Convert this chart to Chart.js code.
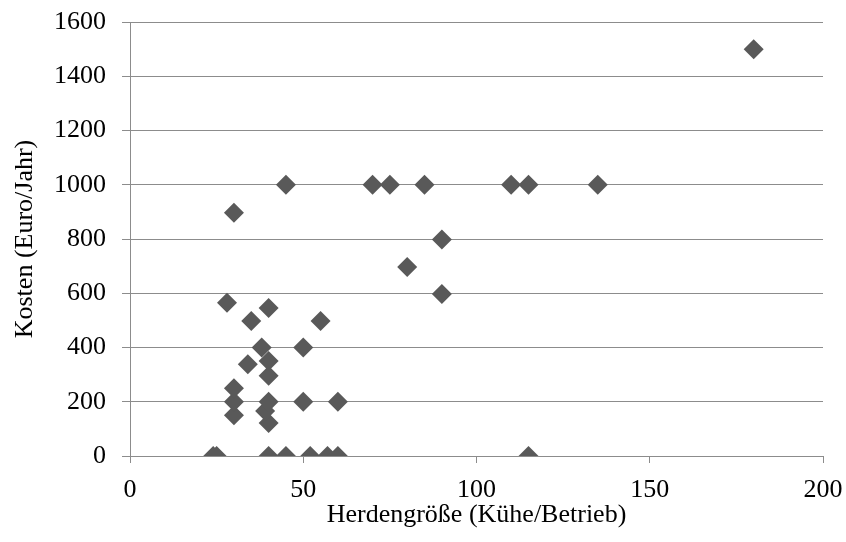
<!DOCTYPE html>
<html>
<head>
<meta charset="utf-8">
<script src="https://cdn.jsdelivr.net/npm/chart.js@4.4.1/dist/chart.umd.min.js"></script>
<style>
    html, body { margin: 0; padding: 0; background: #ffffff; }
    #wrap { width: 846px; height: 542px; }
</style>
</head>
<body>
<div id="wrap"><canvas id="chart-herde" width="846" height="542"></canvas></div>
<script>
// Herdengröße (Kühe/Betrieb) und Kosten (Euro/Jahr), je Betrieb
const herdSize = [24, 25, 40, 45, 52, 57, 60, 115,
    30, 30, 30, 40, 39, 40, 50, 60,
    40, 40, 34, 38, 50, 35, 55, 40, 28,
    90, 80, 90, 30,
    45, 70, 75, 85, 110, 115, 135, 180];
const costs = [0, 0, 0, 0, 0, 0, 0, 0,
    150, 200, 250, 122, 166, 200, 200, 200,
    296, 350, 338, 400, 400, 498, 498, 546, 565,
    597, 697, 798, 897,
    1000, 1000, 1000, 1000, 1000, 1000, 1000, 1500];
const xTicks = [0, 50, 100, 150, 200];
const yTicks = [0, 200, 400, 600, 800, 1000, 1200, 1400, 1600];

(function () {
    const gridGray = '#8c8c8c';
    const serif = "'Liberation Serif', 'Times New Roman', serif";
    const labelFont = { family: serif, size: 26 };

    const points = herdSize.map(function (x, i) {
        return { x: x, y: costs[i] };
    });

    function plain(value) {
        return String(value);
    }

    new Chart(document.getElementById('chart-herde'), {
        type: 'scatter',
        data: {
            datasets: [
                {
                    data: points,
                    pointStyle: 'rectRot',
                    pointRadius: 10,
                    backgroundColor: '#595959',
                    borderColor: '#595959',
                    borderWidth: 0,
                },
            ],
        },
        options: {
            responsive: false,
            animation: false,
            devicePixelRatio: 1,
            layout: { padding: { top: 22, right: 23, left: 0, bottom: 0 } },
            plugins: {
                legend: { display: false },
                tooltip: { enabled: false },
            },
            scales: {
                x: {
                    type: 'linear',
                    min: 0,
                    max: 200,
                    afterBuildTicks(scale) {
                        scale.ticks = xTicks.map(function (v) { return { value: v }; });
                    },
                    afterFit(scale) {
                        scale.height = 86;
                        scale.paddingLeft = 0;
                        scale.paddingRight = 0;
                    },
                    grid: {
                        drawOnChartArea: false,
                        tickLength: 7,
                        tickColor: gridGray,
                    },
                    border: { color: gridGray, width: 1 },
                    ticks: { color: '#000', font: labelFont, padding: 12, maxRotation: 0, callback: plain },
                    title: {
                        display: true,
                        text: 'Herdengröße (Kühe/Betrieb)',
                        color: '#000',
                        font: labelFont,
                        padding: { top: 0, bottom: 11 },
                    },
                },
                y: {
                    type: 'linear',
                    min: 0,
                    max: 1600,
                    afterBuildTicks(scale) {
                        scale.ticks = yTicks.map(function (v) { return { value: v }; });
                    },
                    afterFit(scale) {
                        scale.width = 130;
                        scale.paddingTop = 0;
                        scale.paddingBottom = 0;
                    },
                    grid: {
                        color: gridGray,
                        tickLength: 8,
                        tickColor: gridGray,
                    },
                    border: { color: gridGray, width: 1 },
                    ticks: { color: '#000', font: labelFont, padding: 16, callback: plain },
                    title: {
                        display: true,
                        text: 'Kosten (Euro/Jahr)',
                        color: '#000',
                        font: labelFont,
                        padding: { top: 10, bottom: 0 },
                    },
                },
            },
        },
    });
})();
</script>
</body>
</html>
